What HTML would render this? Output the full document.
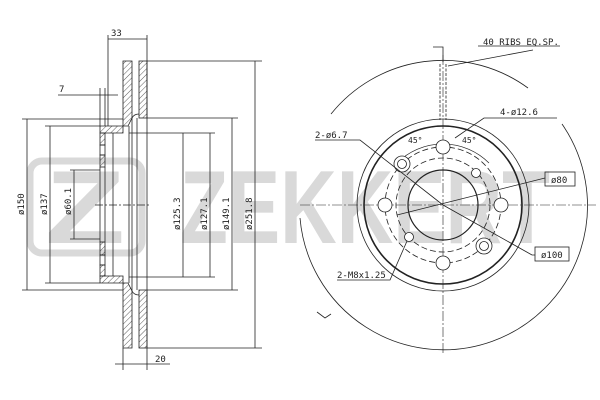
<!DOCTYPE html>
<html><head><meta charset="utf-8"><style>
html,body{margin:0;padding:0;background:#fff}
svg{display:block}
text{font-family:"DejaVu Sans Mono","Liberation Mono",monospace;font-size:9px;fill:#222}
</style></head><body>
<svg width="600" height="400" viewBox="0 0 600 400" xmlns="http://www.w3.org/2000/svg">
<defs>
<pattern id="h" width="4" height="4" patternUnits="userSpaceOnUse" patternTransform="rotate(45)">
<line x1="0" y1="0" x2="0" y2="4" stroke="#333" stroke-width="0.8"/></pattern>
</defs>
<!-- watermark -->
<g fill="#d9d9d9">
<rect x="30" y="161" width="112" height="92" rx="12" fill="none" stroke="#d9d9d9" stroke-width="7"/>
<text x="45" y="243" style="font-family:'Liberation Sans',sans-serif;font-size:104px;font-weight:bold;fill:#d9d9d9" textLength="80" lengthAdjust="spacingAndGlyphs">Z</text>
<text x="180" y="243" style="font-family:'Liberation Sans',sans-serif;font-size:104px;font-weight:bold;fill:#d9d9d9" textLength="370" lengthAdjust="spacingAndGlyphs">ZEKKERT</text>
</g>
<g stroke="#222" stroke-width="0.8" fill="none">
<!-- LEFT VIEW -->
<path d="M123 61 H132 V118 L128 126 H100 V133 H123 L123 61 Z" fill="url(#h)"/>
<path d="M123 348 H132 V291 L128 283 H100 V276 H123 L123 348 Z" fill="url(#h)"/>
<rect x="100" y="133" width="5" height="12" fill="url(#h)"/>
<rect x="100" y="155" width="5" height="12" fill="url(#h)"/>
<rect x="100" y="242" width="5" height="13" fill="url(#h)"/>
<rect x="100" y="265" width="5" height="11" fill="url(#h)"/>
<rect x="100" y="145" width="5" height="10"/>
<rect x="100" y="255" width="5" height="10"/>
<line x1="100" y1="167" x2="100" y2="242"/>
<line x1="105" y1="167" x2="105" y2="242"/>
<rect x="139" y="61" width="8" height="57" fill="url(#h)"/>
<rect x="139" y="290" width="8" height="58" fill="url(#h)"/>
<path d="M132 118 Q134 114 139 114 M132 291 Q134 295 139 295"/>
<line x1="129" y1="126" x2="129" y2="283"/>
<line x1="132" y1="118" x2="132" y2="291"/>
<line x1="137" y1="118" x2="137" y2="290"/>
<line x1="147" y1="61" x2="147" y2="348"/>
<line x1="113" y1="133" x2="113" y2="276"/>
<!-- extension lines -->
<line x1="147" y1="61" x2="262" y2="61"/>
<line x1="147" y1="348" x2="262" y2="348"/>
<line x1="147" y1="118" x2="238" y2="118"/>
<line x1="147" y1="290" x2="238" y2="290"/>
<line x1="129" y1="133" x2="215" y2="133"/>
<line x1="129" y1="277" x2="215" y2="277"/>
<line x1="22" y1="119" x2="123" y2="119"/>
<line x1="22" y1="290" x2="123" y2="290"/>
<line x1="45" y1="126" x2="100" y2="126"/>
<line x1="45" y1="283" x2="100" y2="283"/>
<line x1="70" y1="170" x2="100" y2="170"/>
<line x1="70" y1="239" x2="100" y2="239"/>
<!-- vertical dims -->
<line x1="255" y1="61" x2="255" y2="348"/>
<line x1="232" y1="118" x2="232" y2="290"/>
<line x1="210" y1="133" x2="210" y2="277"/>
<line x1="183" y1="133" x2="183" y2="277"/>
<line x1="27" y1="119" x2="27" y2="290"/>
<line x1="50" y1="126" x2="50" y2="283"/>
<line x1="74" y1="170" x2="74" y2="239"/>
<!-- 33 -->
<line x1="108" y1="35" x2="108" y2="126"/>
<line x1="147" y1="35" x2="147" y2="61"/>
<line x1="108" y1="39" x2="147" y2="39"/>
<!-- 7 -->
<line x1="58" y1="95" x2="118" y2="95"/>
<line x1="100" y1="88" x2="100" y2="126"/>
<line x1="105" y1="88" x2="105" y2="126"/>
<!-- 20 -->
<line x1="123" y1="348" x2="123" y2="370"/>
<line x1="147" y1="348" x2="147" y2="370"/>
<line x1="115" y1="364" x2="170" y2="364"/>
<line x1="95" y1="205" x2="150" y2="205" stroke-dasharray="8 2 2 2"/>

<!-- RIGHT VIEW -->
<path d="M331 114 A144 144 0 0 1 528 88"/>
<path d="M562 124 A144 144 0 1 1 300 218"/>
<path d="M317 312 L325 318 L331 314"/>
<line x1="300" y1="205" x2="596" y2="205" stroke-dasharray="10 2 2 2" stroke-width="0.6"/>
<line x1="443" y1="55" x2="443" y2="355" stroke-dasharray="10 2 2 2" stroke-width="0.6"/>
<path d="M433 47 H443 V62"/>
<line x1="440" y1="64" x2="440" y2="120" stroke-dasharray="3 1.5"/>
<line x1="446" y1="64" x2="446" y2="120" stroke-dasharray="3 1.5"/>
<circle cx="443" cy="205" r="86"/>
<circle cx="443" cy="205" r="79" stroke-width="1.6"/>
<circle cx="443" cy="205" r="35" stroke-width="1.2"/>
<circle cx="443" cy="205" r="58" stroke-dasharray="6 3"/>
<circle cx="443" cy="205" r="47" stroke-dasharray="6 3"/>
<path d="M397 163 A65 65 0 0 1 489 163" stroke-width="0.7"/>
<circle cx="443" cy="147" r="7" fill="#fff"/>
<circle cx="443" cy="263" r="7" fill="#fff"/>
<circle cx="385" cy="205" r="7" fill="#fff"/>
<circle cx="501" cy="205" r="7" fill="#fff"/>
<circle cx="402" cy="164" r="8" fill="#fff"/><circle cx="402" cy="164" r="4.5"/>
<circle cx="484" cy="246" r="8" fill="#fff"/><circle cx="484" cy="246" r="4.5"/>
<circle cx="476" cy="173" r="4.5" fill="#fff"/>
<circle cx="409" cy="237" r="4.5" fill="#fff"/>
<path d="M478 46 L560 46 M533 50 L448 66"/>
<path d="M315 140 H360 L443 205 L532 255 H535"/>
<path d="M557 118 H484 L455 138"/>
<path d="M545 178 L397 215"/>
<path d="M337 280 H390 L407 241"/>
<rect x="545" y="172" width="30" height="14"/>
<rect x="535" y="247" width="34" height="14"/>
</g>
<g>
<text x="111" y="36">33</text>
<text x="59" y="92">7</text>
<text x="155" y="362">20</text>
<text transform="translate(24,215) rotate(-90)">ø150</text>
<text transform="translate(47,215) rotate(-90)">ø137</text>
<text transform="translate(71,215) rotate(-90)">ø60.1</text>
<text transform="translate(180,230) rotate(-90)">ø125.3</text>
<text transform="translate(207,230) rotate(-90)">ø127.1</text>
<text transform="translate(229,230) rotate(-90)">ø149.1</text>
<text transform="translate(252,230) rotate(-90)">ø251.8</text>
<text x="483" y="45">40 RIBS EQ.SP.</text>
<text x="500" y="115">4-ø12.6</text>
<text x="315" y="138">2-ø6.7</text>
<text x="337" y="278">2-M8x1.25</text>
<text x="408" y="143" style="font-size:8px">45°</text>
<text x="462" y="143" style="font-size:8px">45°</text>
<text x="551" y="183">ø80</text>
<text x="541" y="258">ø100</text>
</g>
</svg>
</body></html>
